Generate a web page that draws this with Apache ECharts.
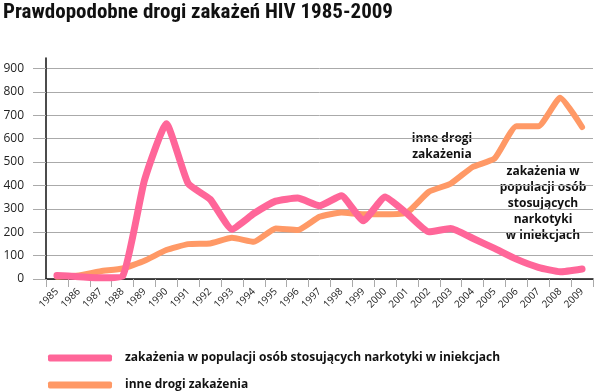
<!DOCTYPE html>
<html><head><meta charset="utf-8">
<script src="https://cdn.jsdelivr.net/npm/echarts@6/dist/echarts.min.js"></script>
<style>html,body{margin:0;padding:0;background:#fff}#c{width:600px;height:392px}</style>
</head><body><div id="c"></div>
<script>
const years = ['1985','1986','1987','1988','1989','1990','1991','1992','1993','1994','1995','1996','1997','1998','1999','2000','2001','2002','2003','2004','2005','2006','2007','2008','2009'];
const idu = [15,10,5,12,422,664,408,341,213,280,333,346,313,356,249,351,280,202,216,174,131,85,50,31,43];
const other = [10,15,33,45,78,124,149,152,176,159,216,209,266,284,277,277,284,373,408,479,515,653,653,775,650];
const seriesNames = ['zakażenia w populacji osób stosujących narkotyki w iniekcjach','inne drogi zakażenia'];
const font = 'Open Sans';
const legendText = {fontFamily:font,fontWeight:'bold',fontSize:12,color:'#111',padding:[0,0,0,8]};
const chart = echarts.init(document.getElementById('c'));
chart.setOption({
  animation:false,
  title:{text:'Prawdopodobne drogi zakażeń HIV 1985-2009',left:-2,top:-3,textStyle:{fontFamily:'Roboto Condensed',fontWeight:'bold',fontSize:21,color:'#111'}},
  grid:{left:46,right:7,top:58,bottom:113,containLabel:false},
  legend:[
    {left:43,top:347,itemWidth:64,itemHeight:7,icon:'roundRect',textStyle:legendText,data:[seriesNames[0]]},
    {left:43,top:374,itemWidth:64,itemHeight:7,icon:'roundRect',textStyle:legendText,data:[seriesNames[1]]}
  ],
  xAxis:{type:'category',data:years,boundaryGap:true,
    axisLine:{lineStyle:{color:'#111',width:1.5}},
    axisTick:{show:true,length:8,lineStyle:{color:'#aaa'}},
    axisLabel:{rotate:45,fontFamily:font,fontSize:10,color:'#222',margin:11,interval:0}},
  yAxis:{type:'value',min:0,max:945,interval:100,
    axisLine:{show:true,lineStyle:{color:'#111',width:1.5}},
    axisTick:{show:true,length:13,lineStyle:{color:'#aaa'}},
    axisLabel:{fontFamily:font,fontSize:12,color:'#222',margin:22,showMaxLabel:false},
    splitLine:{show:true,showMaxLine:false,lineStyle:{color:'#aaa',width:1}}},
  series:[
    {name:seriesNames[1],type:'line',data:other,symbol:'none',smooth:0.15,z:2,
      lineStyle:{color:'#ff9966',width:6,cap:'round',join:'round'},itemStyle:{color:'#ff9966'}},
    {name:seriesNames[0],type:'line',data:idu,symbol:'none',smooth:0.15,z:3,
      lineStyle:{color:'#ff6699',width:7,cap:'round',join:'round'},itemStyle:{color:'#ff6699'}}
  ],
  graphic:[
    {type:'text',x:442,y:131,style:{text:'inne drogi\nzakażenia',align:'center',verticalAlign:'top',fontFamily:font,fontWeight:'bold',fontSize:12,lineHeight:16,fill:'#111'}},
    {type:'text',x:543,y:164,style:{text:'zakażenia w\npopulacji osób\nstosujących\nnarkotyki\nw iniekcjach',align:'center',verticalAlign:'top',fontFamily:font,fontWeight:'bold',fontSize:12,lineHeight:16,fill:'#111'}}
  ]
});
</script></body></html>
